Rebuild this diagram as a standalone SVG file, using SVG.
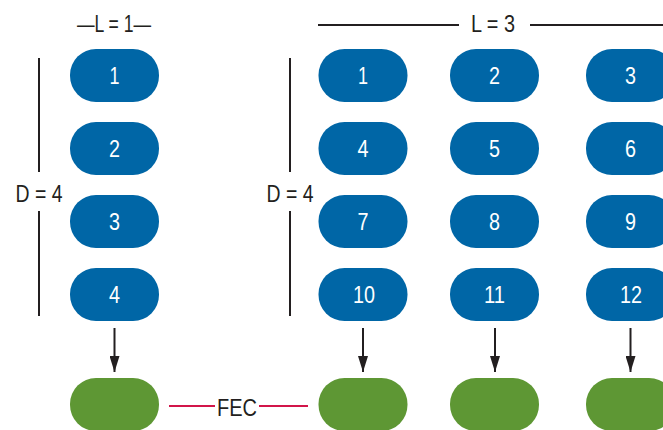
<svg xmlns="http://www.w3.org/2000/svg" width="663" height="430" viewBox="0 0 663 430">
<style>
.blk rect{fill:#0066A6}
.par rect{fill:#5E9734}
.blk text{fill:#fff;font-family:"Liberation Sans",Arial,sans-serif;font-size:23px;text-anchor:middle}
.lbl{fill:#231F20;font-family:"Liberation Sans",Arial,sans-serif;font-size:23px;text-anchor:middle}
.ln{stroke:#231F20;stroke-width:2;fill:none}
.arr{stroke:#231F20;stroke-width:2;fill:none;marker-end:url(#ah)}
.fec{stroke:#D2154A;stroke-width:2;fill:none}
</style>
<defs>
<marker id="ah" markerWidth="16" markerHeight="10" refX="16" refY="5" orient="auto" markerUnits="userSpaceOnUse" viewBox="0 0 16 10">
<path d="M0,0 L16,5 L0,10 Z" fill="#231F20"/>
</marker>
</defs>
<rect width="663" height="430" fill="#fff"/>

<g id="labels">
<text class="lbl" x="114" y="32" textLength="74" lengthAdjust="spacingAndGlyphs">—L = 1—</text>
<text class="lbl" x="493" y="32" textLength="44" lengthAdjust="spacingAndGlyphs">L = 3</text>
<text class="lbl" x="39" y="202" textLength="47" lengthAdjust="spacingAndGlyphs">D = 4</text>
<text class="lbl" x="290" y="202" textLength="47" lengthAdjust="spacingAndGlyphs">D = 4</text>
<text class="lbl" x="237" y="416" textLength="40" lengthAdjust="spacingAndGlyphs">FEC</text>
</g>

<g id="brackets">
<line class="ln" x1="318" y1="25" x2="459" y2="25"/>
<line class="ln" x1="530" y1="25" x2="663" y2="25"/>
<line class="ln" x1="39" y1="58" x2="39" y2="172"/>
<line class="ln" x1="39" y1="211" x2="39" y2="316"/>
<line class="ln" x1="290" y1="58" x2="290" y2="172"/>
<line class="ln" x1="290" y1="211" x2="290" y2="316"/>
</g>

<g id="connectors">
<line class="arr" x1="114.5" y1="328" x2="114.5" y2="372"/>
<line class="arr" x1="363" y1="328" x2="363" y2="372"/>
<line class="arr" x1="495" y1="328" x2="495" y2="372"/>
<line class="arr" x1="630.5" y1="328" x2="630.5" y2="372"/>
<line class="fec" x1="169" y1="406" x2="215" y2="406"/>
<line class="fec" x1="259" y1="406" x2="308" y2="406"/>
</g>

<g id="a1" class="blk"><rect x="70" y="49" width="89" height="53" rx="26"/><text x="114.5" y="84" textLength="10" lengthAdjust="spacingAndGlyphs">1</text></g>
<g id="a2" class="blk"><rect x="70" y="122" width="89" height="53" rx="26"/><text x="114.5" y="157" textLength="11" lengthAdjust="spacingAndGlyphs">2</text></g>
<g id="a3" class="blk"><rect x="70" y="195" width="89" height="53" rx="26"/><text x="114.5" y="230" textLength="11" lengthAdjust="spacingAndGlyphs">3</text></g>
<g id="a4" class="blk"><rect x="70" y="268" width="89" height="53" rx="26"/><text x="114.5" y="303" textLength="11" lengthAdjust="spacingAndGlyphs">4</text></g>

<g id="b1" class="blk"><rect x="318.5" y="49" width="89" height="53" rx="26"/><text x="363" y="84" textLength="10" lengthAdjust="spacingAndGlyphs">1</text></g>
<g id="b2" class="blk"><rect x="450" y="49" width="89" height="53" rx="26"/><text x="494.5" y="84" textLength="11" lengthAdjust="spacingAndGlyphs">2</text></g>
<g id="b3" class="blk"><rect x="586" y="49" width="89" height="53" rx="26"/><text x="630.5" y="84" textLength="11" lengthAdjust="spacingAndGlyphs">3</text></g>
<g id="b4" class="blk"><rect x="318.5" y="122" width="89" height="53" rx="26"/><text x="363" y="157" textLength="11" lengthAdjust="spacingAndGlyphs">4</text></g>
<g id="b5" class="blk"><rect x="450" y="122" width="89" height="53" rx="26"/><text x="494.5" y="157" textLength="11" lengthAdjust="spacingAndGlyphs">5</text></g>
<g id="b6" class="blk"><rect x="586" y="122" width="89" height="53" rx="26"/><text x="630.5" y="157" textLength="11" lengthAdjust="spacingAndGlyphs">6</text></g>
<g id="b7" class="blk"><rect x="318.5" y="195" width="89" height="53" rx="26"/><text x="363" y="230" textLength="11" lengthAdjust="spacingAndGlyphs">7</text></g>
<g id="b8" class="blk"><rect x="450" y="195" width="89" height="53" rx="26"/><text x="494.5" y="230" textLength="11" lengthAdjust="spacingAndGlyphs">8</text></g>
<g id="b9" class="blk"><rect x="586" y="195" width="89" height="53" rx="26"/><text x="630.5" y="230" textLength="11" lengthAdjust="spacingAndGlyphs">9</text></g>
<g id="b10" class="blk"><rect x="318.5" y="268" width="89" height="53" rx="26"/><text x="364" y="303" textLength="22" lengthAdjust="spacingAndGlyphs">10</text></g>
<g id="b11" class="blk"><rect x="450" y="268" width="89" height="53" rx="26"/><text x="494.5" y="303" textLength="21" lengthAdjust="spacingAndGlyphs">11</text></g>
<g id="b12" class="blk"><rect x="586" y="268" width="89" height="53" rx="26"/><text x="631" y="303" textLength="22" lengthAdjust="spacingAndGlyphs">12</text></g>

<g id="f1" class="par"><rect x="70" y="378" width="89" height="53" rx="26"/></g>
<g id="f2" class="par"><rect x="318.5" y="378" width="89" height="53" rx="26"/></g>
<g id="f3" class="par"><rect x="450" y="378" width="89" height="53" rx="26"/></g>
<g id="f4" class="par"><rect x="586" y="378" width="89" height="53" rx="26"/></g>
</svg>
